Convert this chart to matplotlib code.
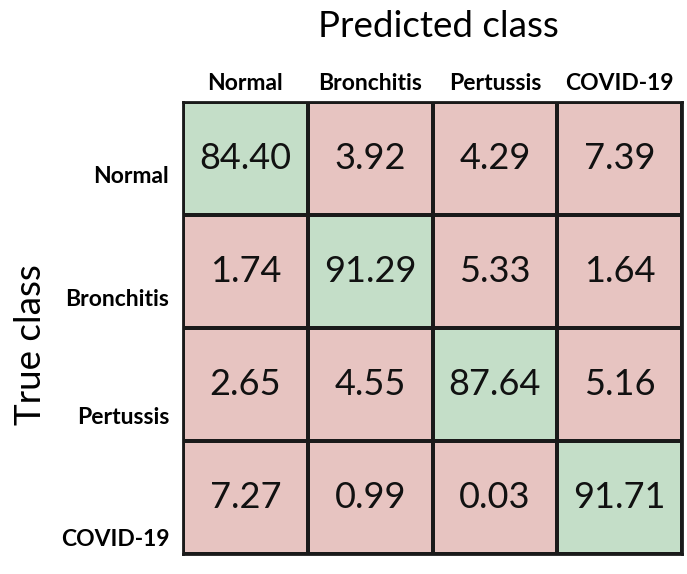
import matplotlib.pyplot as plt
import numpy as np
from matplotlib.colors import ListedColormap

classi = ["Normal", "Bronchitis", "Pertussis", "COVID-19"]
valori = np.array([
    [84.40, 3.92, 4.29, 7.39],
    [1.74, 91.29, 5.33, 1.64],
    [2.65, 4.55, 87.64, 5.16],
    [7.27, 0.99, 0.03, 91.71],
])

plt.rcParams['font.family'] = ['Lato', 'DejaVu Sans']

fig = plt.figure(figsize=(6.87, 5.74), dpi=100)
ax = fig.add_axes([0.2664, 0.0348, 0.7263, 0.7875])

n = len(classi)
diag = np.eye(n)
cmap = ListedColormap(["#e7c4c1", "#c4dec8"])
ax.pcolormesh(np.arange(n + 1), np.arange(n + 1), diag, cmap=cmap,
              edgecolors="#1a1a1a", linewidth=1.6)
ax.set_xlim(0, n)
ax.set_ylim(n, 0)

for i in range(n):
    for j in range(n):
        ax.text(j + 0.5, i + 0.5, f"{valori[i, j]:.2f}", ha="center", va="center",
                fontsize=26, color="#111111")

ax.xaxis.tick_top()
ax.set_xticks(np.arange(n) + 0.5)
ax.set_xticklabels(classi, fontsize=16.5, fontweight="bold")
# le etichette di riga stanno un po' sotto il centro della cella
off = [0.14, 0.23, 0.27, 0.35]
ax.set_yticks(np.arange(n) + 0.5 + np.array(off))
ax.set_yticklabels(classi, fontsize=16.5, fontweight="bold")
ax.tick_params(length=0, pad=10)
ax.tick_params(axis="x", pad=6)
for s in ax.spines.values():
    s.set_linewidth(2)
    s.set_color("#1a1a1a")

fig.text(0.638, 0.954, "Predicted class", ha="center", va="center", fontsize=26.5)
fig.text(0.044, 0.40, "True class", ha="center", va="center", fontsize=26.5, rotation=90)

fig.savefig("out.png")
